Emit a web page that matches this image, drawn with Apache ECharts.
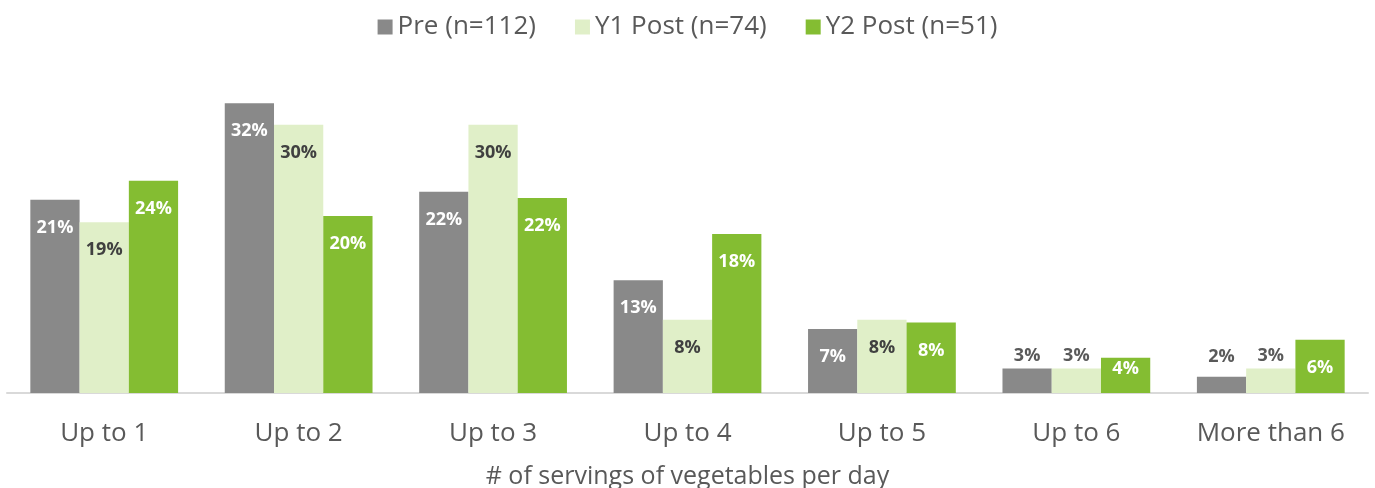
<!DOCTYPE html>
<html>
<head>
<meta charset="utf-8">
<script src="https://cdn.jsdelivr.net/npm/echarts@6/dist/echarts.min.js"></script>
<style>
  html, body { margin: 0; padding: 0; background: #fff; }
  #chart { width: 1375px; height: 488px; }
</style>
</head>
<body>
<div id="chart"></div>
<script>
// categories and series (percent of respondents)
const categories = ['Up to 1', 'Up to 2', 'Up to 3', 'Up to 4', 'Up to 5', 'Up to 6', 'More than 6'];
const seriesNames = ['Pre (n=112)', 'Y1 Post (n=74)', 'Y2 Post (n=51)'];
const preValues = [21.4, 32.1, 22.3, 12.5, 7.1, 2.7, 1.8];
const y1Values = [18.9, 29.7, 29.7, 8.1, 8.1, 2.7, 2.7];
const y2Values = [23.5, 19.6, 21.6, 17.6, 7.8, 3.9, 5.9];
const axisTitle = '# of servings of vegetables per day';

const colors = ['#898989', '#e0efc8', '#84bd32'];
const labelColors = ['#ffffff', '#404040', '#ffffff'];
const fontFamily = '"Open Sans", "Noto Sans", sans-serif';

const chart = echarts.init(document.getElementById('chart'));

// short bars: label sits above the bar (dark grey) or tight under the top
function buildData(values) {
    return values.map(v => {
        if (v < 3.5) {
            return {
                value: v,
                label: {
                    position: 'top',
                    distance: v < 2.5 ? 11 : 4,
                    color: '#595959'
                }
            };
        }
        if (v < 5) {
            return { value: v, label: { distance: 2 } };
        }
        return { value: v };
    });
}

function makeSeries(name, values, idx) {
    return {
        name: name,
        type: 'bar',
        data: buildData(values),
        barGap: '0%',
        barCategoryGap: '24%',
        itemStyle: { color: colors[idx] },
        label: {
            show: true,
            position: 'insideTop',
            distance: 19,
            color: labelColors[idx],
            fontFamily: fontFamily,
            fontWeight: 'bold',
            fontSize: 18,
            formatter: p => Math.round(p.value) + '%'
        }
    };
}

const option = {
    animation: false,
    legend: {
        top: 9,
        left: 'center',
        itemWidth: 15,
        itemHeight: 15,
        itemGap: 39,
        icon: 'rect',
        textStyle: { fontFamily: fontFamily, fontSize: 26, color: '#595959' },
        data: seriesNames
    },
    grid: { left: 7, right: 7, top: 77, bottom: 95, containLabel: false, outerBoundsMode: 'none' },
    xAxis: {
        type: 'category',
        data: categories,
        axisTick: { show: false },
        axisLine: { lineStyle: { color: '#d9d9d9', width: 2 } },
        axisLabel: { fontFamily: fontFamily, fontSize: 26, color: '#595959', margin: 28 },
        name: axisTitle,
        nameLocation: 'middle',
        nameGap: 71,
        nameTextStyle: { fontFamily: fontFamily, fontSize: 25, color: '#595959' }
    },
    yAxis: {
        type: 'value',
        min: 0,
        max: 35,
        show: false
    },
    series: [
        makeSeries(seriesNames[0], preValues, 0),
        makeSeries(seriesNames[1], y1Values, 1),
        makeSeries(seriesNames[2], y2Values, 2)
    ]
};

chart.setOption(option);
</script>
</body>
</html>
